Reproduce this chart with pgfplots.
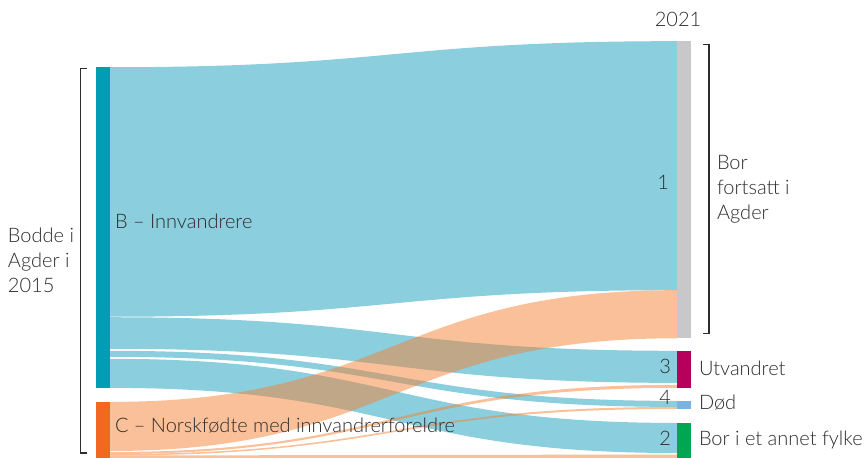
\documentclass[border=0pt]{standalone}
\usepackage{fontspec}
\setmainfont{Lato Light}
\usepackage{pgfplots}
\pgfplotsset{compat=1.18}

\definecolor{bnode}{RGB}{0,157,181}
\definecolor{cnode}{RGB}{242,103,34}
\definecolor{bflow}{RGB}{23,157,187}
\definecolor{cflow}{RGB}{245,129,51}
\definecolor{n1}{RGB}{200,200,202}
\definecolor{n3}{RGB}{183,0,91}
\definecolor{n4}{RGB}{122,178,224}
\definecolor{n2}{RGB}{0,166,81}
\definecolor{txt}{RGB}{45,45,45}

% flow: colour, left top, left bottom, right top, right bottom (pixel rows)
\newcommand{\flow}[5]{%
  \fill[#1, fill opacity=0.5] (axis cs:110,#2)
    .. controls (axis cs:393.5,#2) and (axis cs:393.5,#4) .. (axis cs:677,#4)
    -- (axis cs:677,#5)
    .. controls (axis cs:393.5,#5) and (axis cs:393.5,#3) .. (axis cs:110,#3) -- cycle;}

\begin{document}
\begin{tikzpicture}[lbl/.style={text=txt, font=\fontsize{10}{12.5}\selectfont, inner sep=0pt, outer sep=0pt}]
\useasboundingbox (0,0) rectangle (432.5pt,228.5pt);
\begin{axis}[
    at={(0,0)}, anchor=south west,
    scale only axis, width=432.5pt, height=228.5pt,
    xmin=0, xmax=865, ymin=0, ymax=457,
    y dir=reverse, hide axis, clip=true,
]
% B flows
\flow{bflow}{68}{317}{42}{290.5}
\flow{bflow}{317.5}{349}{351}{383}
\flow{bflow}{351}{357}{401}{407}
\flow{bflow}{359}{388}{423}{453}
% C flows
\flow{cflow}{402}{451}{290.5}{338.5}
\flow{cflow}{452}{454}{385}{388}
\flow{cflow}{454}{455.5}{407}{409}
\flow{cflow}{455.5}{458}{454.5}{458}

% nodes
\addplot[fill=bnode, draw=none] coordinates {(96,68) (110,68) (110,388) (96,388)} -- cycle;
\addplot[fill=cnode, draw=none] coordinates {(96,402) (110,402) (110,458) (96,458)} -- cycle;
\addplot[fill=n1, draw=none] coordinates {(677,42) (691,42) (691,338.5) (677,338.5)} -- cycle;
\addplot[fill=n3, draw=none] coordinates {(677,351) (691,351) (691,388) (677,388)} -- cycle;
\addplot[fill=n4, draw=none] coordinates {(677,401) (691,401) (691,409) (677,409)} -- cycle;
\addplot[fill=n2, draw=none] coordinates {(677,423) (691,423) (691,458) (677,458)} -- cycle;

% brackets
\draw[txt, line width=0.6pt] (axis cs:87,69) -- (axis cs:80.5,69) -- (axis cs:80.5,453) -- (axis cs:87,453);
\draw[txt, line width=0.6pt] (axis cs:703,45) -- (axis cs:709,45) -- (axis cs:709,334) -- (axis cs:703,334);

% labels
\node[lbl, anchor=center] at (axis cs:678,20) {2021};
\node[lbl, anchor=east] at (axis cs:669,183) {1};
\node[lbl, anchor=east] at (axis cs:671,367) {3};
\node[lbl, anchor=east] at (axis cs:671,398) {4};
\node[lbl, anchor=east] at (axis cs:671,438) {2};
\node[lbl, anchor=west] at (axis cs:699,368) {Utvandret};
\node[lbl, anchor=west] at (axis cs:699,403) {Død};
\node[lbl, anchor=west] at (axis cs:699,440) {Bor i et annet fylke};
\node[lbl, anchor=west, align=left] at (axis cs:717,190) {Bor\\fortsatt i\\Agder};
\node[lbl, anchor=west, align=left] at (axis cs:8,261) {Bodde i\\Agder i\\2015};
\node[lbl, anchor=west] at (axis cs:115,222) {B – Innvandrere};
\node[lbl, anchor=west] at (axis cs:115,426) {C – Norskfødte med innvandrerforeldre};
\end{axis}
\end{tikzpicture}
\end{document}
